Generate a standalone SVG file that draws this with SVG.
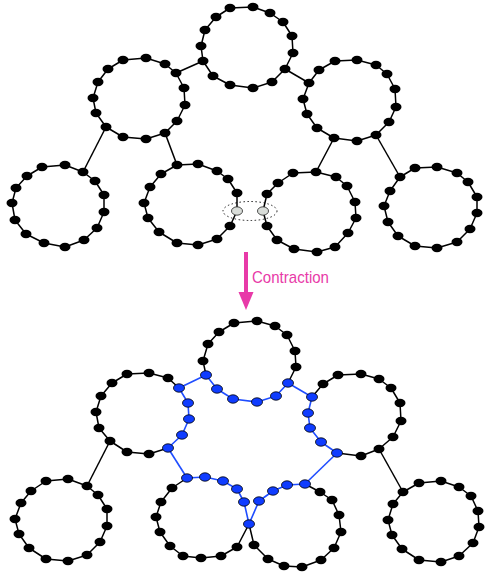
<svg xmlns="http://www.w3.org/2000/svg" width="485" height="573" viewBox="0 0 485 573">
<style>
.e{fill:none;stroke:#000;stroke-width:1.5;stroke-linejoin:round}
.be{fill:none;stroke:#1f4dff;stroke-width:1.6;stroke-linejoin:round}
.k{fill:#000}
.b{fill:#0f3cff;stroke:#000;stroke-width:0.8}
.g{fill:#d9ddd9;stroke:#222;stroke-width:0.8}
.lbl{font-family:"Liberation Sans",Arial,sans-serif;font-size:17px;fill:#e83aa8}
</style>
<defs>
<ellipse id="d" rx="5.5" ry="4.2"/>
</defs>
<rect width="485" height="573" fill="#fff"/>

<g id="connectors">
<polyline class="e" points="203,61 176,73"/>
<polyline class="e" points="285,69 309,83"/>
<polyline class="e" points="106,127 83,172"/>
<polyline class="e" points="165,133 177,165"/>
<polyline class="e" points="334,138 316,172"/>
<polyline class="e" points="376,135 400,177"/>
<polyline class="be" points="206,375 179,388"/>
<polyline class="be" points="288,383 312,397"/>
<polyline class="e" points="110,441 87,486"/>
<polyline class="be" points="168,448 187,478"/>
<polyline class="be" points="337,453 305,484"/>
<polyline class="e" points="379,449 403,492"/>
<ellipse cx="250" cy="211" rx="27" ry="9.5" fill="none" stroke="#000" stroke-width="0.9" stroke-dasharray="1.5 2.5"/>
<g id="arrow">
<line x1="246" y1="252" x2="246" y2="294" stroke="#e83aa8" stroke-width="4"/>
<polygon points="238.5,292 253.5,292 246,310" fill="#e83aa8"/>
<text class="lbl" x="252" y="283" textLength="77" lengthAdjust="spacingAndGlyphs">Contraction</text>
</g>
</g>

<g id="T0">
<polygon class="e" points="216,17 230,8 253,7 270,13 283,22 292,36 293,53 285,69 272,82 253,88 230,85 213,76 203,61 201,46 205,30"/>
<g class="k"><use href="#d" x="216" y="17"/><use href="#d" x="230" y="8"/><use href="#d" x="253" y="7"/><use href="#d" x="270" y="13"/><use href="#d" x="283" y="22"/><use href="#d" x="292" y="36"/><use href="#d" x="293" y="53"/><use href="#d" x="285" y="69"/><use href="#d" x="272" y="82"/><use href="#d" x="253" y="88"/><use href="#d" x="230" y="85"/><use href="#d" x="213" y="76"/><use href="#d" x="203" y="61"/><use href="#d" x="201" y="46"/><use href="#d" x="205" y="30"/></g>
</g>

<g id="T1">
<polygon class="e" points="108,69 123,60 146,58 165,64 176,73 184,88 185,105 177,121 165,133 146,139 123,137 106,127 96,113 93,98 98,82"/>
<g class="k"><use href="#d" x="108" y="69"/><use href="#d" x="123" y="60"/><use href="#d" x="146" y="58"/><use href="#d" x="165" y="64"/><use href="#d" x="176" y="73"/><use href="#d" x="184" y="88"/><use href="#d" x="185" y="105"/><use href="#d" x="177" y="121"/><use href="#d" x="165" y="133"/><use href="#d" x="146" y="139"/><use href="#d" x="123" y="137"/><use href="#d" x="106" y="127"/><use href="#d" x="96" y="113"/><use href="#d" x="93" y="98"/><use href="#d" x="98" y="82"/></g>
</g>

<g id="T2">
<polygon class="e" points="319,70 335,61 357,60 376,65 387,74 395,89 396,107 389,122 376,135 357,141 334,138 317,128 307,114 303,99 309,83"/>
<g class="k"><use href="#d" x="319" y="70"/><use href="#d" x="335" y="61"/><use href="#d" x="357" y="60"/><use href="#d" x="376" y="65"/><use href="#d" x="387" y="74"/><use href="#d" x="395" y="89"/><use href="#d" x="396" y="107"/><use href="#d" x="389" y="122"/><use href="#d" x="376" y="135"/><use href="#d" x="357" y="141"/><use href="#d" x="334" y="138"/><use href="#d" x="317" y="128"/><use href="#d" x="307" y="114"/><use href="#d" x="303" y="99"/><use href="#d" x="309" y="83"/></g>
</g>

<g id="T3">
<polygon class="e" points="27,176 42,167 65,165 83,172 95,181 104,195 104,212 97,228 84,240 65,247 44,243 26,234 15,220 12,203 16,188"/>
<g class="k"><use href="#d" x="27" y="176"/><use href="#d" x="42" y="167"/><use href="#d" x="65" y="165"/><use href="#d" x="83" y="172"/><use href="#d" x="95" y="181"/><use href="#d" x="104" y="195"/><use href="#d" x="104" y="212"/><use href="#d" x="97" y="228"/><use href="#d" x="84" y="240"/><use href="#d" x="65" y="247"/><use href="#d" x="44" y="243"/><use href="#d" x="26" y="234"/><use href="#d" x="15" y="220"/><use href="#d" x="12" y="203"/><use href="#d" x="16" y="188"/></g>
</g>

<g id="T4">
<polygon class="e" points="161,174 177,165 198,164 217,171 228,179 237,193 237,211 230,226 217,239 198,245 177,243 159,232 148,218 144,203 150,187"/>
<g class="k"><use href="#d" x="161" y="174"/><use href="#d" x="177" y="165"/><use href="#d" x="198" y="164"/><use href="#d" x="217" y="171"/><use href="#d" x="228" y="179"/><use href="#d" x="237" y="193"/><use href="#d" x="230" y="226"/><use href="#d" x="217" y="239"/><use href="#d" x="198" y="245"/><use href="#d" x="177" y="243"/><use href="#d" x="159" y="232"/><use href="#d" x="148" y="218"/><use href="#d" x="144" y="203"/><use href="#d" x="150" y="187"/></g>
<use class="g" href="#d" x="237" y="211"/>
</g>

<g id="T5">
<polygon class="e" points="278,183 293,173 316,172 336,177 347,186 355,202 356,218 348,233 335,247 317,252 294,249 277,240 267,226 263,211 267,194"/>
<g class="k"><use href="#d" x="278" y="183"/><use href="#d" x="293" y="173"/><use href="#d" x="316" y="172"/><use href="#d" x="336" y="177"/><use href="#d" x="347" y="186"/><use href="#d" x="355" y="202"/><use href="#d" x="356" y="218"/><use href="#d" x="348" y="233"/><use href="#d" x="335" y="247"/><use href="#d" x="317" y="252"/><use href="#d" x="294" y="249"/><use href="#d" x="277" y="240"/><use href="#d" x="267" y="226"/><use href="#d" x="267" y="194"/></g>
<use class="g" href="#d" x="263" y="211"/>
</g>

<g id="T6">
<polygon class="e" points="400,177 415,168 437,167 457,173 468,182 477,197 477,213 470,229 457,242 437,248 415,246 398,236 388,222 384,206 390,191"/>
<g class="k"><use href="#d" x="400" y="177"/><use href="#d" x="415" y="168"/><use href="#d" x="437" y="167"/><use href="#d" x="457" y="173"/><use href="#d" x="468" y="182"/><use href="#d" x="477" y="197"/><use href="#d" x="477" y="213"/><use href="#d" x="470" y="229"/><use href="#d" x="457" y="242"/><use href="#d" x="437" y="248"/><use href="#d" x="415" y="246"/><use href="#d" x="398" y="236"/><use href="#d" x="388" y="222"/><use href="#d" x="384" y="206"/><use href="#d" x="390" y="191"/></g>
</g>

<g id="B0">
<polyline class="e" points="206,375 203,361 208,344 219,332 234,323 257,321 275,326 287,335 295,351 296,367 288,383"/>
<polyline class="be" points="288,383 276,396 257,402 233,399 217,389 206,375"/>
<g class="k"><use href="#d" x="219" y="332"/><use href="#d" x="234" y="323"/><use href="#d" x="257" y="321"/><use href="#d" x="275" y="326"/><use href="#d" x="287" y="335"/><use href="#d" x="295" y="351"/><use href="#d" x="296" y="367"/><use href="#d" x="203" y="361"/><use href="#d" x="208" y="344"/></g>
<g class="b"><use href="#d" x="288" y="383"/><use href="#d" x="276" y="396"/><use href="#d" x="257" y="402"/><use href="#d" x="233" y="399"/><use href="#d" x="217" y="389"/><use href="#d" x="206" y="375"/></g>
</g>

<g id="B1">
<polyline class="e" points="168,448 149,454 127,452 110,441 99,428 96,412 101,396 112,383 127,374 149,373 168,378 179,388"/>
<polyline class="be" points="179,388 188,403 189,419 182,435 168,448"/>
<g class="k"><use href="#d" x="112" y="383"/><use href="#d" x="127" y="374"/><use href="#d" x="149" y="373"/><use href="#d" x="168" y="378"/><use href="#d" x="149" y="454"/><use href="#d" x="127" y="452"/><use href="#d" x="110" y="441"/><use href="#d" x="99" y="428"/><use href="#d" x="96" y="412"/><use href="#d" x="101" y="396"/></g>
<g class="b"><use href="#d" x="179" y="388"/><use href="#d" x="188" y="403"/><use href="#d" x="189" y="419"/><use href="#d" x="182" y="435"/><use href="#d" x="168" y="448"/></g>
</g>

<g id="B2">
<polyline class="e" points="312,397 323,384 338,375 361,374 379,379 391,388 400,403 401,421 393,437 379,449 361,456 337,453"/>
<polyline class="be" points="337,453 321,442 310,428 308,413 312,397"/>
<g class="k"><use href="#d" x="323" y="384"/><use href="#d" x="338" y="375"/><use href="#d" x="361" y="374"/><use href="#d" x="379" y="379"/><use href="#d" x="391" y="388"/><use href="#d" x="400" y="403"/><use href="#d" x="401" y="421"/><use href="#d" x="393" y="437"/><use href="#d" x="379" y="449"/><use href="#d" x="361" y="456"/></g>
<g class="b"><use href="#d" x="337" y="453"/><use href="#d" x="321" y="442"/><use href="#d" x="310" y="428"/><use href="#d" x="308" y="413"/><use href="#d" x="312" y="397"/></g>
</g>

<g id="B3">
<polygon class="e" points="31,491 46,481 68,479 87,486 98,495 107,509 107,526 100,542 87,555 68,561 46,559 29,548 19,534 15,519 21,503"/>
<g class="k"><use href="#d" x="31" y="491"/><use href="#d" x="46" y="481"/><use href="#d" x="68" y="479"/><use href="#d" x="87" y="486"/><use href="#d" x="98" y="495"/><use href="#d" x="107" y="509"/><use href="#d" x="107" y="526"/><use href="#d" x="100" y="542"/><use href="#d" x="87" y="555"/><use href="#d" x="68" y="561"/><use href="#d" x="46" y="559"/><use href="#d" x="29" y="548"/><use href="#d" x="19" y="534"/><use href="#d" x="15" y="519"/><use href="#d" x="21" y="503"/></g>
</g>

<g id="B4">
<polyline class="e" points="249,524 237,547 221,556 201,558 183,556 170,546 160,532 156,517 161,502 172,488 187,478"/>
<polyline class="be" points="187,478 205,477 223,481 237,489 244,502 249,524"/>
<g class="k"><use href="#d" x="237" y="547"/><use href="#d" x="221" y="556"/><use href="#d" x="201" y="558"/><use href="#d" x="183" y="556"/><use href="#d" x="170" y="546"/><use href="#d" x="160" y="532"/><use href="#d" x="156" y="517"/><use href="#d" x="161" y="502"/><use href="#d" x="172" y="488"/></g>
<g class="b"><use href="#d" x="187" y="478"/><use href="#d" x="205" y="477"/><use href="#d" x="223" y="481"/><use href="#d" x="237" y="489"/><use href="#d" x="244" y="502"/></g>
</g>

<g id="B5">
<polyline class="e" points="305,484 320,492 332,500 339,515 341,532 334,548 321,560 302,567 284,566 268,559 254,545 249,524"/>
<polyline class="be" points="249,524 259,501 273,491 287,485 305,484"/>
<g class="k"><use href="#d" x="320" y="492"/><use href="#d" x="332" y="500"/><use href="#d" x="339" y="515"/><use href="#d" x="341" y="532"/><use href="#d" x="334" y="548"/><use href="#d" x="321" y="560"/><use href="#d" x="302" y="567"/><use href="#d" x="284" y="566"/><use href="#d" x="268" y="559"/><use href="#d" x="254" y="545"/></g>
<g class="b"><use href="#d" x="259" y="501"/><use href="#d" x="273" y="491"/><use href="#d" x="287" y="485"/><use href="#d" x="305" y="484"/></g>
</g>

<g id="junction">
<use class="b" href="#d" x="249" y="524"/>
</g>

<g id="B6">
<polygon class="e" points="403,492 419,483 441,481 459,487 471,496 478,511 479,527 473,543 459,556 441,562 419,560 402,549 392,535 388,520 393,504"/>
<g class="k"><use href="#d" x="403" y="492"/><use href="#d" x="419" y="483"/><use href="#d" x="441" y="481"/><use href="#d" x="459" y="487"/><use href="#d" x="471" y="496"/><use href="#d" x="478" y="511"/><use href="#d" x="479" y="527"/><use href="#d" x="473" y="543"/><use href="#d" x="459" y="556"/><use href="#d" x="441" y="562"/><use href="#d" x="419" y="560"/><use href="#d" x="402" y="549"/><use href="#d" x="392" y="535"/><use href="#d" x="388" y="520"/><use href="#d" x="393" y="504"/></g>
</g>
</svg>
